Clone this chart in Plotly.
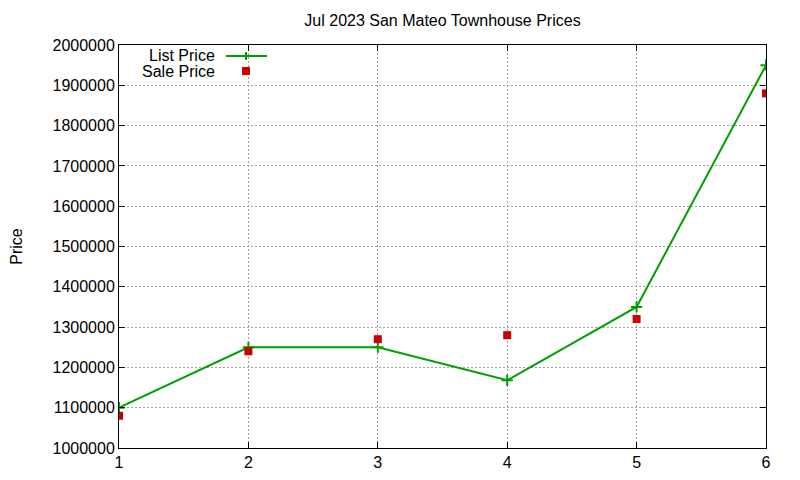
import plotly.graph_objects as go

# data
listings = [1, 2, 3, 4, 5, 6]
list_price = [1100000, 1250000, 1250000, 1168000, 1350000, 1950000]
sale_price = [1080000, 1240000, 1270000, 1280000, 1320000, 1880000]

GREEN = "#00a000"
RED = "#cc0000"
FONT = "Liberation Sans, Arial, sans-serif"

# page body has an 8px margin, so the figure is a bit smaller than the window
W, H = 792, 472
OFF = 8
L, T, R, B = 119 - OFF, 45 - OFF, OFF + W - 766, OFF + H - 448

fig = go.Figure()

fig.add_trace(go.Scatter(
    x=listings, y=list_price, mode="lines+markers", name="List Price",
    line=dict(color=GREEN, width=2),
    marker=dict(symbol="cross-thin", size=8, line=dict(color=GREEN, width=2)),
))
fig.add_trace(go.Scatter(
    x=listings, y=sale_price, mode="markers", name="Sale Price",
    marker=dict(symbol="square", size=8, color=RED),
))


def px2x(px):
    return (px - 119) / 647


def px2y(py):
    return (448 - py) / 403


# gnuplot style key: text on the left, sample on the right
key_rows = [("List Price", 55), ("Sale Price", 71)]
for label, ypx in key_rows:
    fig.add_annotation(
        text=label, xref="paper", yref="paper",
        x=px2x(217), y=px2y(ypx),
        xanchor="right", yanchor="middle", showarrow=False,
        font=dict(size=16, color="black", family=FONT),
    )

fig.add_shape(type="line", xref="paper", yref="paper",
              x0=px2x(226), x1=px2x(267), y0=px2y(56), y1=px2y(56),
              line=dict(color=GREEN, width=2))
fig.add_shape(type="line", xref="paper", yref="paper",
              x0=px2x(246), x1=px2x(246), y0=px2y(52), y1=px2y(60),
              line=dict(color=GREEN, width=2))
fig.add_shape(type="rect", xref="paper", yref="paper",
              x0=px2x(242), x1=px2x(250), y0=px2y(67), y1=px2y(75),
              line=dict(width=0), fillcolor=RED)

axis_common = dict(
    showline=True, linecolor="black", linewidth=1, mirror="ticks",
    ticks="inside", ticklen=6, tickcolor="black",
    showgrid=True, gridcolor="#a0a0a0", griddash="2px,2px", gridwidth=1,
    zeroline=False, automargin=False,
    tickfont=dict(size=16, color="black", family=FONT),
)

fig.update_xaxes(range=[1, 6], dtick=1, **axis_common)
fig.update_yaxes(range=[1000000, 2000000], dtick=100000, tickformat="d",
                 title=dict(text="Price", standoff=30,
                            font=dict(size=16, color="black", family=FONT)),
                 **axis_common)

fig.update_layout(
    width=W, height=H,
    margin=dict(l=L, r=R, t=T, b=B),
    paper_bgcolor="white", plot_bgcolor="white",
    showlegend=False,
    title=dict(text="Jul 2023 San Mateo Townhouse Prices",
               x=((119 + 766) / 2 - OFF) / W, xanchor="center",
               y=1 - (20 - OFF) / H, yanchor="middle",
               font=dict(size=16, color="black", family=FONT)),
    font=dict(family=FONT, color="black"),
)

fig.write_html("out.html")
